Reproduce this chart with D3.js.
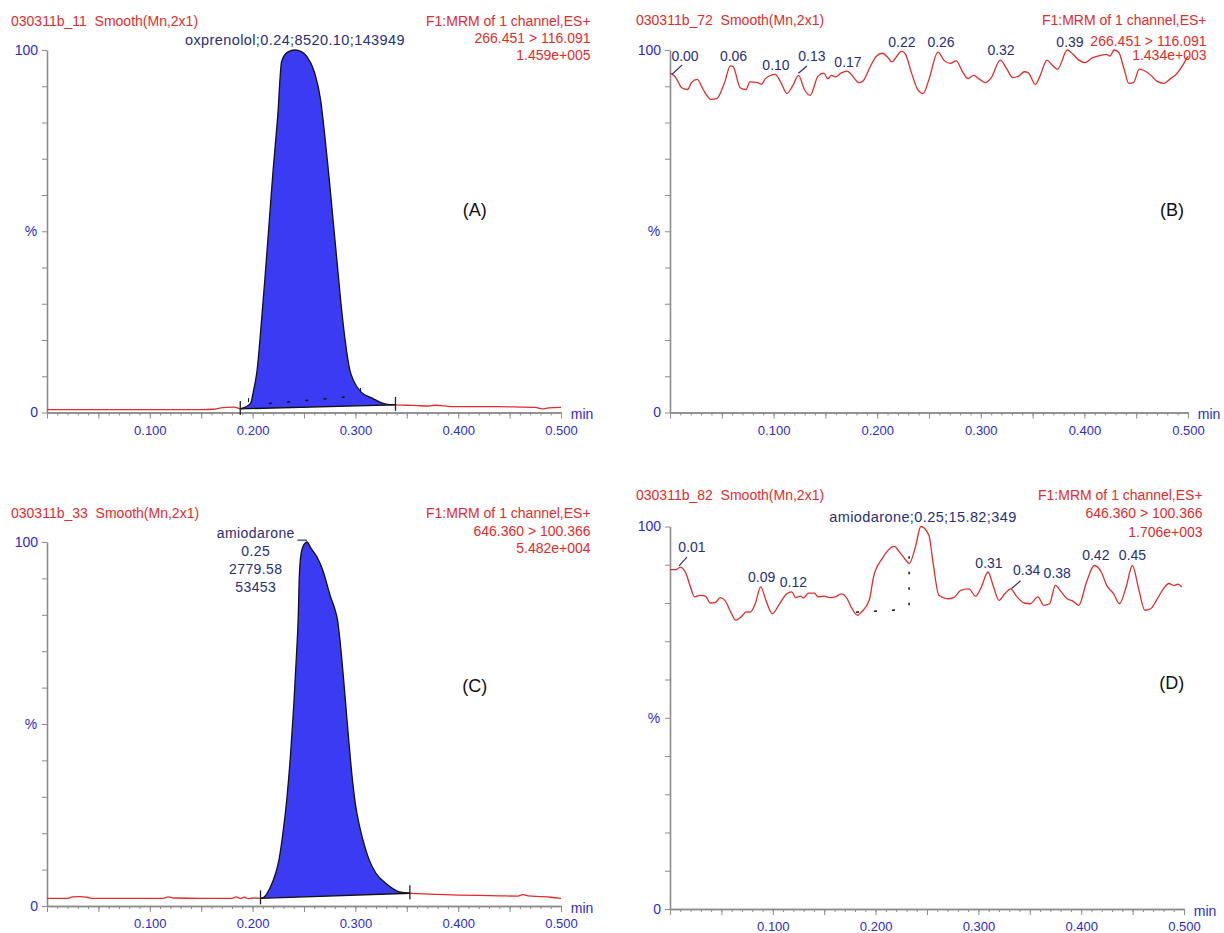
<!DOCTYPE html>
<html>
<head>
<meta charset="utf-8">
<script src="https://cdn.jsdelivr.net/npm/d3@7"></script>
<style>
body { margin: 0; background: #fff; }
svg text { font-family: "Liberation Sans", Arial, sans-serif; }
</style>
</head>
<body>
<svg id="chart" width="1224" height="933"></svg>
<script>
// ---- data (time in min, intensity in %) ----
var traceA = [[0,0.8],[0.03,0.8],[0.06,0.8],[0.09,0.8],[0.12,0.8],[0.15,0.8],[0.162,0.9],[0.168,1.2],[0.175,1.4],[0.182,1.5],[0.188,1.0],
  [0.193,1.5],[0.198,2.5],[0.201,6.2],[0.2044,11.7],[0.208,23],[0.212,37],[0.216,52],[0.220,67],[0.2244,81.6],[0.2282,96.8],
  [0.234,99.4],[0.2415,100],[0.247,99.6],[0.2529,98.2],[0.2605,93.6],[0.2662,86.2],[0.270,77],[0.274,66],[0.278,54],[0.282,42],
  [0.286,30],[0.290,20],[0.2946,11.7],[0.2979,9],[0.3054,5.7],[0.3167,3.9],[0.3298,2.3],[0.339,2.1],
  [0.35,2.0],[0.36,1.9],[0.371,1.8],[0.378,2.0],[0.384,1.9],[0.39,1.7],[0.40,1.6],[0.42,1.6],[0.44,1.6],[0.46,1.5],[0.475,1.4],
  [0.482,1.0],[0.488,1.3],[0.5,1.4]];
var integA = [[0.188,1.0],[0.339,2.1]];
var dashA = [[0.2158,2.5],[0.29,4.25]];
var marksA = [[0.196,3.4],[0.305,6.2]];

var traceB = [[0,93.6],[0.0056,92.4],[0.0113,89.6],[0.0169,89.1],[0.0207,91.0],[0.0263,91.9],[0.032,89.1],[0.0395,86.4],
  [0.0451,86.6],[0.0526,91.0],[0.0583,95.6],[0.0609,95.4],[0.0677,89.6],[0.0733,89.1],[0.0771,91.2],[0.0846,91.0],[0.0883,90.5],
  [0.0921,92.1],[0.1015,93.3],[0.1071,91.0],[0.1128,88.0],[0.1184,90.1],[0.1241,93.0],[0.1297,89.1],[0.1353,87.5],[0.1429,92.8],
  [0.1485,93.6],[0.1523,92.1],[0.156,93.0],[0.1598,92.6],[0.1654,93.7],[0.1711,94.2],[0.1748,93.3],[0.1823,91.0],[0.1861,91.4],
  [0.1936,95.6],[0.1992,98.3],[0.2049,99.1],[0.2105,97.9],[0.2143,96.7],[0.218,97.9],[0.2237,99.7],[0.2274,98.8],[0.2331,93.7],
  [0.2387,89.3],[0.2444,88.0],[0.25,91.9],[0.2586,99.4],[0.265,97.0],[0.2707,96.3],[0.2763,97.0],[0.282,94.2],[0.2876,92.1],
  [0.2932,93.0],[0.2989,91.9],[0.3045,91.0],[0.3102,92.4],[0.3188,97.2],[0.3252,94.7],[0.3308,92.4],[0.3365,92.8],[0.3421,94.0],
  [0.3459,93.7],[0.3526,90.5],[0.3571,92.8],[0.3639,97.2],[0.3684,96.0],[0.3741,94.7],[0.3835,100],[0.3891,98.8],[0.3947,97.2],
  [0.4004,96.5],[0.4079,97.9],[0.4154,98.5],[0.4211,98.8],[0.4248,98.3],[0.4286,100],[0.4331,99.4],[0.438,95.1],[0.4429,90.8],
  [0.4474,91.0],[0.453,94.7],[0.4586,94.2],[0.4643,93.0],[0.4699,91.4],[0.4767,90.8],[0.4831,92.1],[0.4887,93.3],[0.5,98.3]];
var labelsB = [["0.00",0.0145,98.3],["0.06",0.0613,98.3],["0.10",0.1023,95.9],["0.13",0.137,98.3],["0.17",0.1718,96.8],
  ["0.22",0.2239,102.3],["0.26",0.2616,102.3],["0.32",0.3195,100],["0.39",0.3861,102.3]];
var leadersB = [[[0.002,93.3],[0.0118,95.9]],[[0.1239,93.6],[0.1322,95.6]]];

var traceC = [[0,2.1],[0.02,2.1],[0.025,2.5],[0.032,2.6],[0.039,2.4],[0.045,2.1],[0.08,2.1],[0.113,2.1],[0.118,2.5],[0.123,2.2],
  [0.15,2.1],[0.18,2.1],[0.184,2.5],[0.188,2.1],[0.192,2.4],[0.196,2.0],[0.2,2.2],[0.2077,2.1],
  [0.2109,2.4],[0.217,5],[0.2224,9],[0.2256,12.6],[0.2295,20],[0.2335,30],[0.237,42],[0.240,55],[0.2425,68],[0.2445,80.4],
  [0.2453,89.6],[0.2472,96.9],[0.250,99.3],[0.2529,100],[0.2567,98.3],[0.2624,96],[0.2682,92.3],[0.2758,85],[0.2803,81.3],
  [0.2826,78.6],[0.285,73],[0.288,64],[0.291,54],[0.294,44],[0.297,35],[0.300,28],[0.304,22],[0.3085,17],[0.3135,12.6],
  [0.320,9],[0.3298,6.2],[0.3428,3.9],[0.353,3.5],
  [0.36,3.4],[0.38,3.2],[0.40,3.0],[0.42,2.9],[0.44,2.8],[0.458,2.7],[0.463,3.1],[0.468,2.8],[0.48,2.6],[0.49,2.4],[0.5,2.1]];
var integC = [[0.2077,2.1],[0.353,3.5]];
var labelC = [["amiodarone",0.2031,102.4],["0.25",0.2031,97.5],["2779.58",0.2031,92.6],["53453",0.2031,87.6]];
var leaderC = [[0.2436,100.5],[0.2529,100.5]];

var traceD = [[0,88.7],[0.0061,88.7],[0.0099,89.4],[0.0156,87.7],[0.0194,84.6],[0.024,81.6],[0.029,82.0],[0.0345,81.8],
  [0.039,80.0],[0.044,80.1],[0.0488,81.4],[0.0534,80.7],[0.059,77.7],[0.064,75.5],[0.0692,76.4],[0.0742,77.7],[0.078,77.6],
  [0.0829,79.8],[0.0882,84.2],[0.0938,80.3],[0.0995,77.2],[0.1066,79.8],[0.1131,82.3],[0.1184,82.9],[0.1222,81.4],[0.1271,81.8],
  [0.1297,81.3],[0.1346,82.6],[0.1403,82.6],[0.1441,81.6],[0.1498,81.8],[0.1554,81.4],[0.161,81.6],[0.1667,82.4],[0.1724,81.1],
  [0.1761,79.0],[0.1825,76.8],[0.186,77.6],[0.1938,80.7],[0.198,86.8],[0.2064,91.6],[0.218,94.8],[0.2234,93.3],[0.2291,91.3],
  [0.2326,90.3],[0.2391,95.0],[0.2439,100],[0.2519,97.7],[0.2556,91.1],[0.2616,82.0],[0.2697,81.1],[0.2762,81.4],[0.2827,83.3],
  [0.2907,83.7],[0.2973,81.8],[0.3029,84.2],[0.3093,88.1],[0.3143,84.6],[0.32,80.7],[0.3257,82.4],[0.3313,83.7],[0.337,81.8],
  [0.3446,80.0],[0.3503,79.8],[0.3579,81.6],[0.3635,79.4],[0.3692,79.8],[0.3749,84.6],[0.3806,82.9],[0.3863,81.1],[0.392,80.5],
  [0.3976,79.4],[0.4052,85.5],[0.4127,89.8],[0.4195,88.1],[0.4248,84.6],[0.4316,82.4],[0.4373,79.8],[0.4437,84.2],[0.4498,89.8],
  [0.4562,83.3],[0.4619,78.1],[0.4676,78.5],[0.4732,80.7],[0.48,83.7],[0.4853,85.1],[0.4902,84.6],[0.494,84.9],[0.4978,84.2]];
var labelsD = [["0.01",0.0214,94.6],["0.09",0.0892,86.8],["0.12",0.12,85.5],["0.31",0.3103,90.5],["0.34",0.347,88.6],
  ["0.38",0.3767,87.8],["0.42",0.4142,92.5],["0.45",0.4499,92.5]];
var leadersD = [[[0.0088,89.7],[0.0165,92.0]],[[0.3323,83.8],[0.341,85.8]]];
var dashD = [[0.181,77.6],[0.222,78.2]];
var vdotD = [[0.2326,79.4],[0.2326,92.5]];

var sampleNames = ["030311b_11  Smooth(Mn,2x1)", "030311b_72  Smooth(Mn,2x1)", "030311b_33  Smooth(Mn,2x1)", "030311b_82  Smooth(Mn,2x1)"];
var channelText = [
  ["F1:MRM of 1 channel,ES+", "266.451 > 116.091", "1.459e+005"],
  ["F1:MRM of 1 channel,ES+", "266.451 > 116.091", "1.434e+003"],
  ["F1:MRM of 1 channel,ES+", "646.360 > 100.366", "5.482e+004"],
  ["F1:MRM of 1 channel,ES+", "646.360 > 100.366", "1.706e+003"]];
var peakTitles = [["oxprenolol;0.24;8520.10;143949",0.2412,102.8],null,null,["amiodarone;0.25;15.82;349",0.2461,102.6]];
var panelNames = [["(A)",0.416,55.9],["(B)",0.4846,55.9],["(C)",0.416,60.4],["(D)",0.488,59.1]];
var xTickValues = d3.range(0, 51).map(function (i) { return i / 100; });

// ---- colours ----
var red = "#e42b2b", blue = "#2a2ad4", navy = "#282e76", peakFill = "#3b3bf4", grey = "#8c8c8c";

var svg = d3.select("#chart");

// layout of each panel
var panels = [
  { trace: traceA, integ: integA, xr: [47, 561], yr: [412.5, 50], left: 11, right: 590.6, head: [20.7, 38.3, 55] },
  { trace: traceB, labels: labelsB, leaders: leadersB, xr: [670, 1188], yr: [412.5, 50], left: 636, right: 1206.5, head: [20, 41, 55] },
  { trace: traceC, integ: integC, xr: [47, 561], yr: [906, 542], left: 11, right: 590.6, head: [513.3, 530.7, 548.3] },
  { trace: traceD, labels: labelsD, leaders: leadersD, xr: [670, 1184], yr: [909, 526.5], left: 636, right: 1202.6, head: [495, 513.3, 531.7] }
];

function drawPanel(p, i) {
	var g = svg.append("g");
	var x = d3.scaleLinear().domain([0, 0.5]).range(p.xr);
	var y = d3.scaleLinear().domain([0, 100]).range(p.yr);

	// header texts
	g.append("text").attr("x", p.left).attr("y", p.head[0]).attr("dy", "0.35em")
		.style("white-space", "pre").attr("fill", red).attr("font-size", 14).text(sampleNames[i]);
	g.selectAll(".chan").data(channelText[i]).enter().append("text")
		.attr("x", p.right).attr("y", function (d, k) { return p.head[k]; }).attr("dy", "0.35em")
		.attr("text-anchor", "end").attr("fill", red).attr("font-size", 14).text(function (d) { return d; });

	// y axis
	var ya = g.append("g").attr("transform", "translate(" + p.xr[0] + ",0)")
		.call(d3.axisLeft(y).tickValues(d3.range(0, 101, 10)).tickSize(5).tickSizeOuter(0).tickPadding(4)
			.tickFormat(function (d) { return (d === 0 || d === 100) ? d : ""; }));
	ya.selectAll("text").attr("fill", blue).attr("font-size", 14);
	g.append("text").attr("x", p.xr[0] - 16).attr("y", y(50)).attr("dy", "0.35em")
		.attr("text-anchor", "middle").attr("fill", blue).attr("font-size", 14).text("%");

	// x axis, minor then major ticks
	g.append("g").attr("transform", "translate(0," + p.yr[0] + ")")
		.call(d3.axisBottom(x).tickValues(xTickValues).tickSize(3).tickSizeOuter(0).tickFormat(""));
	var xa2 = g.append("g").attr("transform", "translate(0," + p.yr[0] + ")")
		.call(d3.axisBottom(x).tickValues(xTickValues.filter(function (d, k) { return k % 5 === 0; }))
			.tickSize(6).tickSizeOuter(0).tickPadding(7)
			.tickFormat(function (d) { return (Math.round(d * 100) % 10 === 0 && d > 0) ? d3.format(".3f")(d) : ""; }));
	xa2.selectAll("text").attr("fill", blue).attr("font-size", 13);
	g.append("text").attr("x", x(0.5) + 21).attr("y", p.yr[0] + 2).attr("dy", "0.35em")
		.attr("text-anchor", "middle").attr("fill", blue).attr("font-size", 14).text("min");

	g.selectAll(".domain").attr("stroke", grey).attr("stroke-width", 1.6);
	g.selectAll(".tick line").attr("stroke", grey).attr("stroke-width", 1);

	var line = d3.line().x(function (d) { return x(d[0]); }).y(function (d) { return y(d[1]); }).curve(d3.curveMonotoneX);
	var straight = d3.line().x(function (d) { return x(d[0]); }).y(function (d) { return y(d[1]); });

	if (p.integ) {
		var s = p.integ[0], e = p.integ[1];
		var base = d3.scaleLinear().domain([s[0], e[0]]).range([s[1], e[1]]);
		var before = p.trace.filter(function (d) { return d[0] <= s[0]; });
		var inside = p.trace.filter(function (d) { return d[0] >= s[0] && d[0] <= e[0]; });
		var after = p.trace.filter(function (d) { return d[0] >= e[0]; });

		g.append("path").datum(inside)
			.attr("d", d3.area().x(function (d) { return x(d[0]); })
				.y0(function (d) { return y(base(d[0])); })
				.y1(function (d) { return y(d[1]); }).curve(d3.curveMonotoneX))
			.attr("fill", peakFill);
		g.append("path").datum(inside).attr("d", line).attr("fill", "none").attr("stroke", "#111").attr("stroke-width", 1.3);
		g.append("path").datum(p.integ).attr("d", straight).attr("fill", "none").attr("stroke", "#111").attr("stroke-width", 1.3);
		[before, after].forEach(function (seg) {
			g.append("path").datum(seg).attr("d", line).attr("fill", "none").attr("stroke", red).attr("stroke-width", 1.3);
		});
		// integration limit ticks
		g.selectAll(".lim").data(p.integ).enter().append("line")
			.attr("x1", function (d) { return x(d[0]); }).attr("x2", function (d) { return x(d[0]); })
			.attr("y1", function (d) { return y(d[1]) - 8; }).attr("y2", function (d) { return y(d[1]) + 6; })
			.attr("stroke", "#222").attr("stroke-width", 1.3);
	} else {
		g.append("path").datum(p.trace).attr("d", line).attr("fill", "none").attr("stroke", red).attr("stroke-width", 1.3);
	}

	if (p.labels) {
		g.selectAll(".lab").data(p.labels).enter().append("text")
			.attr("x", function (d) { return x(d[1]); }).attr("y", function (d) { return y(d[2]); }).attr("dy", "0.35em")
			.attr("text-anchor", "middle").attr("fill", navy).attr("font-size", 14).text(function (d) { return d[0]; });
		p.leaders.forEach(function (l) {
			g.append("path").datum(l).attr("d", straight).attr("stroke", navy).attr("stroke-width", 1.2);
		});
	}
	if (peakTitles[i]) {
		g.append("text").attr("x", x(peakTitles[i][1])).attr("y", y(peakTitles[i][2])).attr("dy", "0.35em")
			.attr("text-anchor", "middle").attr("fill", navy).attr("font-size", 14.5).attr("letter-spacing", 0.4)
			.text(peakTitles[i][0]);
	}
	p.x = x; p.y = y; p.g = g;
}

panels.forEach(drawPanel);

// extra annotations
var pA = panels[0], pC = panels[2], pD = panels[3];
pA.g.append("path").datum(dashA).attr("d", d3.line().x(function (d) { return pA.x(d[0]); }).y(function (d) { return pA.y(d[1]); }))
	.attr("stroke", "#111").attr("stroke-width", 1.5).attr("stroke-dasharray", "3,15.3");
pA.g.selectAll(".mk").data(marksA).enter().append("line")
	.attr("x1", function (d) { return pA.x(d[0]); }).attr("x2", function (d) { return pA.x(d[0]); })
	.attr("y1", function (d) { return pA.y(d[1]) - 2; }).attr("y2", function (d) { return pA.y(d[1]) + 2; })
	.attr("stroke", "#111").attr("stroke-width", 1);

pC.g.selectAll(".lc").data(labelC).enter().append("text")
	.attr("x", function (d) { return pC.x(d[1]); }).attr("y", function (d) { return pC.y(d[2]); }).attr("dy", "0.35em")
	.attr("text-anchor", "middle").attr("fill", navy).attr("font-size", 14).attr("letter-spacing", 0.4)
	.text(function (d) { return d[0]; });
pC.g.append("path").datum(leaderC).attr("d", d3.line().x(function (d) { return pC.x(d[0]); }).y(function (d) { return pC.y(d[1]); }))
	.attr("stroke", navy).attr("stroke-width", 1.2);

var lineD = d3.line().x(function (d) { return pD.x(d[0]); }).y(function (d) { return pD.y(d[1]); });
pD.g.append("path").datum(dashD).attr("d", lineD).attr("stroke", "#111").attr("stroke-width", 1.5).attr("stroke-dasharray", "3,15");
pD.g.append("path").datum(vdotD).attr("d", lineD).attr("stroke", "#111").attr("stroke-width", 1.5).attr("stroke-dasharray", "2.5,13");

// panel letters
panels.forEach(function (p, i) {
	p.g.append("text").attr("x", p.x(panelNames[i][1])).attr("y", p.y(panelNames[i][2])).attr("dy", "0.35em")
		.attr("text-anchor", "middle").attr("fill", "#111").attr("font-size", 18).text(panelNames[i][0]);
});
</script>
</body>
</html>
